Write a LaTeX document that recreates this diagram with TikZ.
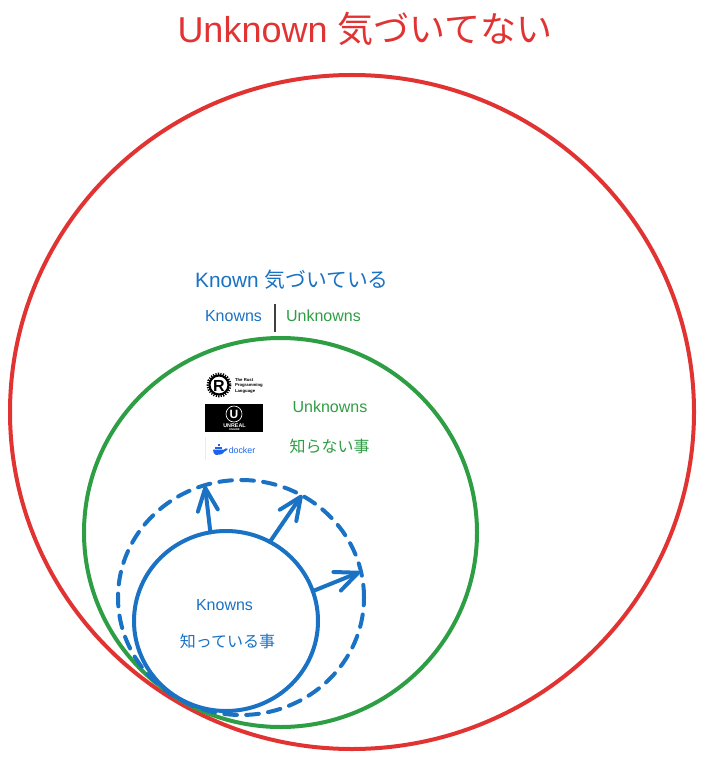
\documentclass[tikz,border=0pt]{standalone}
\usepackage{fontspec}
\setmainfont{Liberation Sans}
\newfontfamily\cjk{Noto Sans CJK JP}
\usetikzlibrary{shapes.geometric,arrows.meta}
\definecolor{cred}{HTML}{E23333}
\definecolor{cgreen}{HTML}{2E9E44}
\definecolor{cblue}{HTML}{1A72C4}
\definecolor{cdock}{HTML}{1D63ED}
\newcommand{\pxfont}[1]{\fontsize{\dimexpr #1pt*3/4\relax}{\dimexpr #1pt\relax}\selectfont}
\tikzset{
  ring/.style={ellipse,draw,line width=3pt,inner sep=0pt,outer sep=0pt},
  lab/.style={inner sep=0pt,outer sep=0pt,anchor=base},
  growth/.style={cblue,line width=3pt,line cap=round,-{Straight Barb[length=17pt,width=15pt,line width=3pt,round]}},
  tinytext/.style={inner sep=0pt,outer sep=0pt,font=\bfseries\fontsize{3.2}{4}\selectfont}
}
\begin{document}
\begin{tikzpicture}[x=0.75pt,y=-0.75pt]
\useasboundingbox (0,0) rectangle (704,759);
\fill[white] (0,0) rectangle (704,759);
% rings
\node[ring,draw=cred,minimum width=513pt,minimum height=505.5pt] (unknown) at (352,412) {};
\node[ring,draw=cgreen,minimum width=294.75pt,minimum height=291.75pt] (known) at (280.5,532.5) {};
\node[ellipse,draw=cblue,line width=3pt,dash pattern=on 9.5pt off 7pt,line cap=round,inner sep=0pt,outer sep=0pt,minimum width=184.5pt,minimum height=176.25pt] (grown) at (241,597.5) {};
\node[ring,draw=cblue,minimum width=138pt,minimum height=135pt] (knowns) at (226,621) {};
% arrows
\coordinate (t1) at (205,486);
\coordinate (t2) at (302,495);
\coordinate (t3) at (360,572);
\draw[growth] (knowns.100.7) -- (t1);
\draw[growth] (knowns.61) -- (t2);
\draw[growth] (knowns.19) -- (t3);
% titles
\node[lab,text=cred] (title) at (365,43) {\pxfont{36}Unknown {\cjk 気づいてない}};
\node[lab,text=cblue] (ktitle) at (292,287) {\pxfont{20.8}Known {\cjk 気づいている}};
\node[lab,text=cblue] (kn) at (233.5,321) {\pxfont{16}Knowns};
\node[lab,text=cgreen] (un) at (323.5,321) {\pxfont{16}Unknowns};
\coordinate (s1) at (275,304);
\coordinate (s2) at (275,332);
\draw[line width=1.5pt,black!75] (s1) -- (s2);
\node[lab,text=cgreen] (un2) at (330,412) {\pxfont{16}Unknowns};
\node[lab,text=cgreen] (un3) at (329.5,452) {\pxfont{16}\cjk 知らない事};
\node[lab,text=cblue] (kn2) at (224.5,610) {\pxfont{16}Knowns};
\node[lab,text=cblue] (kn3) at (227.5,647) {\pxfont{16}\cjk 知っている事};
% Rust logo
\draw[black,line width=2.2pt,dash pattern=on 0.9pt off 0.9pt] (219,385) circle[radius=11];
\draw[black,line width=1.6pt] (219,385) circle[radius=9.5];
\node[inner sep=0pt,font=\bfseries\fontsize{12}{12}\selectfont] (rustR) at (219,385.5) {R};
\node[tinytext,anchor=west] (r1) at (235,380) {The Rust};
\node[tinytext,anchor=west] (r2) at (235,385.5) {Programming};
\node[tinytext,anchor=west] (r3) at (235,391) {Language};
% Unreal logo
\fill[black] (205,404) rectangle (263,432);
\draw[white,line width=0.5pt] (234,414) circle[radius=8];
\node[inner sep=0pt,text=white,font=\bfseries\fontsize{9}{9}\selectfont] (ueU) at (234,414) {U};
\node[inner sep=0pt,text=white,font=\bfseries\fontsize{4}{4}\selectfont] (ue1) at (234.5,425.5) {UNREAL};
\node[inner sep=0pt,text=white,font=\bfseries\fontsize{2}{2}\selectfont] (ue2) at (234.5,430) {ENGINE};
% Docker logo
\draw[black!8,line width=0.5pt] (205,437) -- (205,460);
\fill[cdock] (213,449.5) -- (224,449.5) .. controls (225,448) and (226.5,448) .. (228,449) .. controls (226.5,451) and (225,451) .. (224.5,451.5) .. controls (223,454.5) and (219,455) .. (216,455) .. controls (214,455) and (213,452) .. (213,449.5) -- cycle;
\fill[cdock] (215,446.5) rectangle (222,449);
\fill[cdock] (217.5,444) rectangle (220,446);
\node[inner sep=0pt,text=cdock,font=\fontsize{6.6}{7}\selectfont] (dk) at (242,450) {docker};
\end{tikzpicture}
\end{document}
